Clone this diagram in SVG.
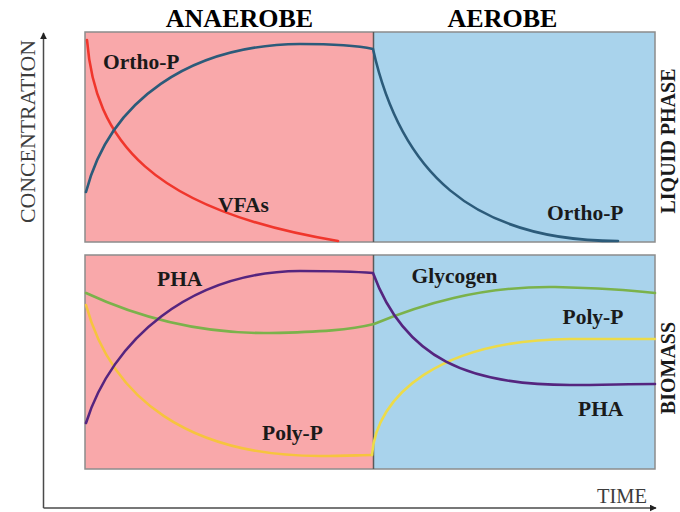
<svg xmlns="http://www.w3.org/2000/svg" width="680" height="512" viewBox="0 0 680 512">
<defs>
<style>
.title{font-family:"Liberation Serif","Times New Roman",serif;font-weight:bold;font-size:26px;fill:#000}
.lbl{font-family:"Liberation Serif","Times New Roman",serif;font-weight:bold;font-size:21.5px;fill:#1a1a1a}
.side{font-family:"Liberation Serif","Times New Roman",serif;font-weight:bold;font-size:20px;fill:#1a1a1a}
.axlbl{font-family:"Liberation Serif","Times New Roman",serif;font-size:21px;fill:#3c3c3c}
.ana{fill:#f9a8aa}
.aer{fill:#a9d3ec}
.frame{fill:none;stroke:#8c8c8c;stroke-width:1.5}
.div{stroke:#5a5a5a;stroke-width:1.5}
.axis{stroke:#4a4a4a;stroke-width:1.5;fill:none}
.crv{fill:none;stroke-width:2.6;stroke-linecap:round}
</style>
<marker id="arr" viewBox="0 0 10 10" refX="9" refY="5" markerWidth="7" markerHeight="7" markerUnits="userSpaceOnUse" orient="auto">
<path d="M0,0 L10,5 L0,10 Z" fill="#222"/>
</marker>
</defs>
<rect width="680" height="512" fill="#fff"/>

<g id="titles">
<text class="title" x="239.5" y="27" text-anchor="middle">ANAEROBE</text>
<text class="title" x="502.5" y="27" text-anchor="middle">AEROBE</text>
</g>

<g id="axes">
<line class="axis" x1="43.5" y1="508" x2="43.5" y2="33" marker-end="url(#arr)"/>
<line class="axis" x1="43.5" y1="508" x2="656" y2="508" marker-end="url(#arr)"/>
<text class="axlbl" transform="translate(35,131.5) rotate(-90)" text-anchor="middle" font-size="24" textLength="183" lengthAdjust="spacingAndGlyphs">CONCENTRATION</text>
<text class="axlbl" x="597" y="503" textLength="50" lengthAdjust="spacingAndGlyphs">TIME</text>
</g>

<g id="liquid-panel">
<rect class="ana" x="85" y="32" width="288.5" height="210"/>
<rect class="aer" x="373.5" y="32" width="281.5" height="210"/>
<rect class="frame" x="85" y="32" width="570" height="210"/>
<line class="div" x1="373.5" y1="32" x2="373.5" y2="242"/>
</g>

<g id="biomass-panel">
<rect class="ana" x="85" y="255" width="288.5" height="214"/>
<rect class="aer" x="373.5" y="255" width="281.5" height="214"/>
<rect class="frame" x="85" y="255" width="570" height="214"/>
<line class="div" x1="373.5" y1="255" x2="373.5" y2="469"/>
</g>

<g id="connectors">
<path id="vfas" class="crv" stroke="#f0362c" d="M87,40 C95,140 150,210 338,241"/>
<path id="ortho-p" class="crv" stroke="#2c5b7a" d="M86,192 C110,100 190,45 300,44 C335,44 355,45 373,49 C400,170 470,241 618,241"/>
<path id="glycogen" class="crv" stroke="#7bb24b" d="M86,293 C140,318 200,334 270,333 C320,332 350,330 374,324 C420,305 480,286 555,287 C600,288 630,290 655,293"/>
<path id="poly-p-ana" class="crv" stroke="#f6c43e" d="M86,305 C112,400 190,456 320,456 C345,456 362,455 372,455"/>
<path id="poly-p-aer" class="crv" stroke="#ecdb4a" d="M372,455 C376,395 440,340 570,339 C600,339 630,339 655,339"/>
<path id="pha" class="crv" stroke="#55257f" d="M86,423 C112,340 190,272 300,271 C340,271 360,272 373,273 C405,360 470,385 570,385 C600,385 630,384 655,384"/>
</g>

<g id="labels">
<text class="lbl" x="103" y="69">Ortho-P</text>
<text class="lbl" x="218" y="211.5">VFAs</text>
<text class="lbl" x="547" y="220">Ortho-P</text>
<text class="lbl" x="157" y="285.5">PHA</text>
<text class="lbl" x="262" y="440">Poly-P</text>
<text class="lbl" x="411.5" y="282.5">Glycogen</text>
<text class="lbl" x="562.5" y="323.5">Poly-P</text>
<text class="lbl" x="578" y="415.5">PHA</text>
</g>

<g id="side-labels">
<text class="side" transform="translate(675,141) rotate(-90)" text-anchor="middle">LIQUID PHASE</text>
<text class="side" transform="translate(675,368) rotate(-90)" text-anchor="middle">BIOMASS</text>
</g>
</svg>
